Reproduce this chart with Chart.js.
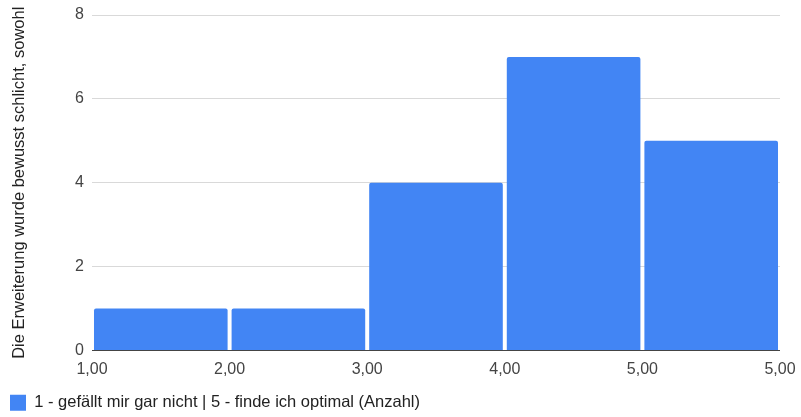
<!DOCTYPE html>
<html>
<head>
<meta charset="utf-8">
<script src="https://cdn.jsdelivr.net/npm/chart.js@4/dist/chart.umd.min.js"></script>
<style>
  html, body { margin: 0; padding: 0; background: #fff; }
  #wrap { width: 801px; height: 417px; }
</style>
</head>
<body>
<div id="wrap"><canvas id="c" width="801" height="417"></canvas></div>
<script>
// Histogram bins: edge labels, counts per bin
const binEdgeLabels = ['1,00', '2,00', '3,00', '4,00', '5,00', '5,00'];
const binCounts = [1, 1, 4, 7, 5];
const yTicks = [0, 2, 4, 6, 8];
const seriesLabel = '1 - gefällt mir gar nicht | 5 - finde ich optimal (Anzahl)';
const yTitle = 'Die Erweiterung wurde bewusst schlicht, sowohl';

const FONT = '"Liberation Sans", Arial, sans-serif';

// each bar sits between two consecutive edges (edge index + 0.5)
const points = binCounts.map((v, i) => ({ x: i + 1.5, y: v }));

new Chart(document.getElementById('c'), {
  type: 'bar',
  data: {
    datasets: [{
      label: seriesLabel,
      data: points,
      backgroundColor: '#4285F4',
      borderWidth: 0,
      borderRadius: { topLeft: 2, topRight: 2, bottomLeft: 0, bottomRight: 0 },
      borderSkipped: 'bottom',
      barPercentage: 0.971,
      categoryPercentage: 1
    }]
  },
  options: {
    responsive: false,
    animation: false,
    layout: { padding: { left: 4, right: 21, top: 15, bottom: -4 } },
    plugins: {
      legend: {
        position: 'bottom',
        align: 'start',
        labels: {
          boxWidth: 16,
          boxHeight: 16,
          padding: 6,
          color: '#222',
          font: { family: FONT, size: 16.5 }
        }
      },
      tooltip: { enabled: false }
    },
    scales: {
      x: {
        type: 'linear',
        min: 1,
        max: 6,
        offset: false,
        grid: { display: false, drawTicks: false },
        border: { display: false },
        afterBuildTicks: (scale) => {
          scale.ticks = binEdgeLabels.map((_, i) => ({ value: i + 1 }));
        },
        ticks: {
          autoSkip: false,
          maxRotation: 0,
          padding: 9,
          color: '#444',
          font: { family: FONT, size: 16 },
          callback: (value) => binEdgeLabels[Math.round(value) - 1]
        },
        afterFit: (scale) => {
          scale.height = 38;
          scale.paddingLeft = 0;
          scale.paddingRight = 0;
        }
      },
      y: {
        min: 0,
        max: 8,
        afterBuildTicks: (scale) => {
          scale.ticks = yTicks.map(v => ({ value: v }));
        },
        grid: {
          drawTicks: false,
          color: (ctx) => ctx.tick && ctx.tick.value === 0 ? '#444' : '#d9d9d9',
          lineWidth: 1
        },
        border: { display: false },
        ticks: {
          padding: 8,
          color: '#444',
          font: { family: FONT, size: 16 }
        },
        title: {
          display: true,
          text: yTitle,
          color: '#222',
          font: { family: FONT, size: 16.5 },
          padding: { top: 6, bottom: 0 }
        },
        afterFit: (scale) => {
          scale.width = 88;
          scale.paddingTop = 0;
          scale.paddingBottom = 0;
        }
      }
    }
  }
});
</script>
</body>
</html>
